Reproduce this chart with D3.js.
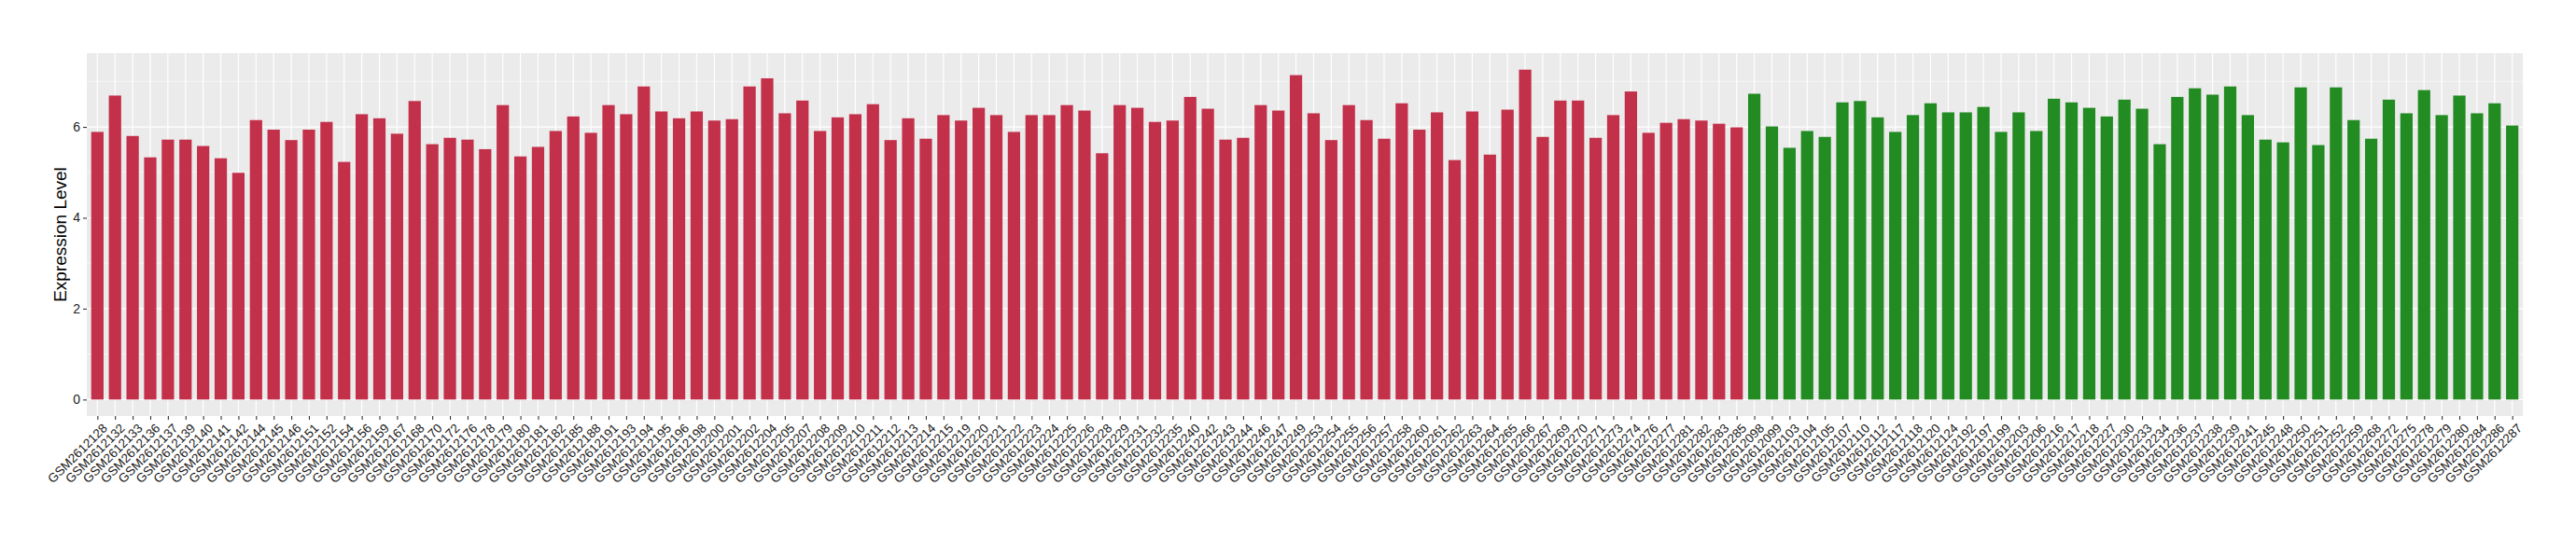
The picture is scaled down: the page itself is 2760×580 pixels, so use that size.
<!DOCTYPE html>
<html>
<head>
<meta charset="utf-8">
<script src="https://cdn.jsdelivr.net/npm/d3@7"></script>
<style>
  body { margin: 0; background: #fff; }
  text { font-family: "Liberation Sans", Arial, Helvetica, sans-serif; }
</style>
</head>
<body>
<div id="chart"></div>
<script>
// samples of the first group (red) and their expression level
const redSamples = [
  'GSM2612128', 'GSM2612132', 'GSM2612133', 'GSM2612136', 'GSM2612137', 'GSM2612139', 'GSM2612140', 'GSM2612141',
  'GSM2612142', 'GSM2612144', 'GSM2612145', 'GSM2612146', 'GSM2612151', 'GSM2612152', 'GSM2612154', 'GSM2612156',
  'GSM2612159', 'GSM2612167', 'GSM2612168', 'GSM2612170', 'GSM2612172', 'GSM2612176', 'GSM2612178', 'GSM2612179',
  'GSM2612180', 'GSM2612181', 'GSM2612182', 'GSM2612185', 'GSM2612188', 'GSM2612191', 'GSM2612193', 'GSM2612194',
  'GSM2612195', 'GSM2612196', 'GSM2612198', 'GSM2612200', 'GSM2612201', 'GSM2612202', 'GSM2612204', 'GSM2612205',
  'GSM2612207', 'GSM2612208', 'GSM2612209', 'GSM2612210', 'GSM2612211', 'GSM2612212', 'GSM2612213', 'GSM2612214',
  'GSM2612215', 'GSM2612219', 'GSM2612220', 'GSM2612221', 'GSM2612222', 'GSM2612223', 'GSM2612224', 'GSM2612225',
  'GSM2612226', 'GSM2612228', 'GSM2612229', 'GSM2612231', 'GSM2612232', 'GSM2612235', 'GSM2612240', 'GSM2612242',
  'GSM2612243', 'GSM2612244', 'GSM2612246', 'GSM2612247', 'GSM2612249', 'GSM2612253', 'GSM2612254', 'GSM2612255',
  'GSM2612256', 'GSM2612257', 'GSM2612258', 'GSM2612260', 'GSM2612261', 'GSM2612262', 'GSM2612263', 'GSM2612264',
  'GSM2612265', 'GSM2612266', 'GSM2612267', 'GSM2612269', 'GSM2612270', 'GSM2612271', 'GSM2612273', 'GSM2612274',
  'GSM2612276', 'GSM2612277', 'GSM2612281', 'GSM2612282', 'GSM2612283', 'GSM2612285'
]
const redValues = [
  5.89, 6.69, 5.80, 5.33, 5.72, 5.72, 5.58, 5.31,
  4.99, 6.15, 5.94, 5.71, 5.94, 6.11, 5.23, 6.28,
  6.19, 5.85, 6.57, 5.62, 5.76, 5.72, 5.51, 6.48,
  5.35, 5.56, 5.91, 6.23, 5.87, 6.48, 6.28, 6.89,
  6.34, 6.19, 6.34, 6.14, 6.17, 6.89, 7.07, 6.30,
  6.58, 5.91, 6.21, 6.28, 6.50, 5.71, 6.19, 5.74,
  6.26, 6.14, 6.42, 6.26, 5.89, 6.26, 6.26, 6.48,
  6.36, 5.42, 6.48, 6.42, 6.11, 6.14, 6.66, 6.40,
  5.72, 5.76, 6.48, 6.36, 7.14, 6.30, 5.71, 6.48,
  6.15, 5.74, 6.52, 5.94, 6.32, 5.27, 6.34, 5.39,
  6.38, 7.26, 5.78, 6.58, 6.58, 5.76, 6.26, 6.78,
  5.87, 6.09, 6.17, 6.14, 6.07, 5.99
]

// samples of the second group (green)
const greenSamples = [
  'GSM2612098', 'GSM2612099', 'GSM2612103', 'GSM2612104', 'GSM2612105', 'GSM2612107', 'GSM2612110', 'GSM2612112',
  'GSM2612117', 'GSM2612118', 'GSM2612120', 'GSM2612124', 'GSM2612192', 'GSM2612197', 'GSM2612199', 'GSM2612203',
  'GSM2612206', 'GSM2612216', 'GSM2612217', 'GSM2612218', 'GSM2612227', 'GSM2612230', 'GSM2612233', 'GSM2612234',
  'GSM2612236', 'GSM2612237', 'GSM2612238', 'GSM2612239', 'GSM2612241', 'GSM2612245', 'GSM2612248', 'GSM2612250',
  'GSM2612251', 'GSM2612252', 'GSM2612259', 'GSM2612268', 'GSM2612272', 'GSM2612275', 'GSM2612278', 'GSM2612279',
  'GSM2612280', 'GSM2612284', 'GSM2612286', 'GSM2612287'
]
const greenValues = [
  6.73, 6.01, 5.54, 5.91, 5.78, 6.54, 6.57, 6.21,
  5.89, 6.26, 6.52, 6.32, 6.32, 6.44, 5.89, 6.32,
  5.91, 6.62, 6.54, 6.42, 6.23, 6.60, 6.40, 5.62,
  6.66, 6.85, 6.71, 6.89, 6.26, 5.72, 5.66, 6.87,
  5.60, 6.87, 6.15, 5.74, 6.60, 6.30, 6.81, 6.26,
  6.69, 6.30, 6.52, 6.03
]

const yTicks = [0, 2, 4, 6]
const yMinor = [1, 3, 5, 7]
const groupColor = { red: '#c3304a', green: '#228b22' }

// tidy rows
const data = []
redSamples.forEach((s, i) => data.push({ sample: s, value: redValues[i], group: 'red' }))
greenSamples.forEach((s, i) => data.push({ sample: s, value: greenValues[i], group: 'green' }))

const margin = { top: 57, right: 57, bottom: 134, left: 93 },
  width = 2760 - margin.left - margin.right,
  height = 580 - margin.top - margin.bottom

const svg = d3
  .select('#chart')
  .append('svg')
  .attr('width', 2760)
  .attr('height', 580)

const g = svg.append('g').attr('transform', `translate(${margin.left},${margin.top})`)

// ggplot-like scales: 0.6 step padding on the discrete axis, 5% on the value axis
const x = d3.scalePoint().domain(data.map((d) => d.sample)).range([0, width]).padding(0.6)
const maxV = d3.max(data, (d) => d.value)
const y = d3.scaleLinear().domain([-0.05 * maxV, 1.05 * maxV]).range([height, 0])
const barW = x.step() * 0.7

// panel background
g.append('rect').attr('width', width).attr('height', height).attr('fill', '#ebebeb')

// grid lines
g.selectAll('.minor')
  .data(yMinor)
  .join('line')
  .attr('x1', 0)
  .attr('x2', width)
  .attr('y1', (d) => y(d))
  .attr('y2', (d) => y(d))
  .attr('stroke', '#fff')
  .attr('stroke-width', 0.6)
g.selectAll('.major')
  .data(yTicks)
  .join('line')
  .attr('x1', 0)
  .attr('x2', width)
  .attr('y1', (d) => y(d))
  .attr('y2', (d) => y(d))
  .attr('stroke', '#fff')
  .attr('stroke-width', 1.2)
g.selectAll('.vgrid')
  .data(x.domain())
  .join('line')
  .attr('x1', (d) => x(d))
  .attr('x2', (d) => x(d))
  .attr('y1', 0)
  .attr('y2', height)
  .attr('stroke', '#fff')
  .attr('stroke-width', 1.2)

// bars
g.selectAll('.bar')
  .data(data)
  .join('rect')
  .attr('class', 'bar')
  .attr('x', (d) => x(d.sample) - barW / 2)
  .attr('width', barW)
  .attr('y', (d) => y(d.value))
  .attr('height', (d) => y(0) - y(d.value))
  .attr('fill', (d) => groupColor[d.group])

// y axis
const yAxis = g.append('g').call(d3.axisLeft(y).tickValues(yTicks).tickSize(4).tickPadding(3))
yAxis.select('.domain').remove()
yAxis.selectAll('.tick line').attr('stroke', '#333').attr('stroke-width', 1.1)
yAxis.selectAll('.tick text').attr('fill', '#222').style('font-size', '14px')

// x axis
const xAxis = g
  .append('g')
  .attr('transform', `translate(0,${height})`)
  .call(d3.axisBottom(x).tickSize(4))
xAxis.select('.domain').remove()
xAxis.selectAll('.tick line').attr('stroke', '#333').attr('stroke-width', 1.1)
xAxis
  .selectAll('.tick text')
  .attr('fill', '#1a1a1a')
  .style('font-size', '13.5px')
  .attr('text-anchor', 'end')
  .attr('transform', 'translate(4,7) rotate(-45)')
  .attr('x', 0)
  .attr('y', 0)
  .attr('dy', '0.72em')

// y title
g.append('text')
  .attr('transform', `translate(-22,${height / 2}) rotate(-90)`)
  .attr('text-anchor', 'middle')
  .style('font-size', '19px')
  .attr('fill', '#000')
  .text('Expression Level')
</script>
</body>
</html>
